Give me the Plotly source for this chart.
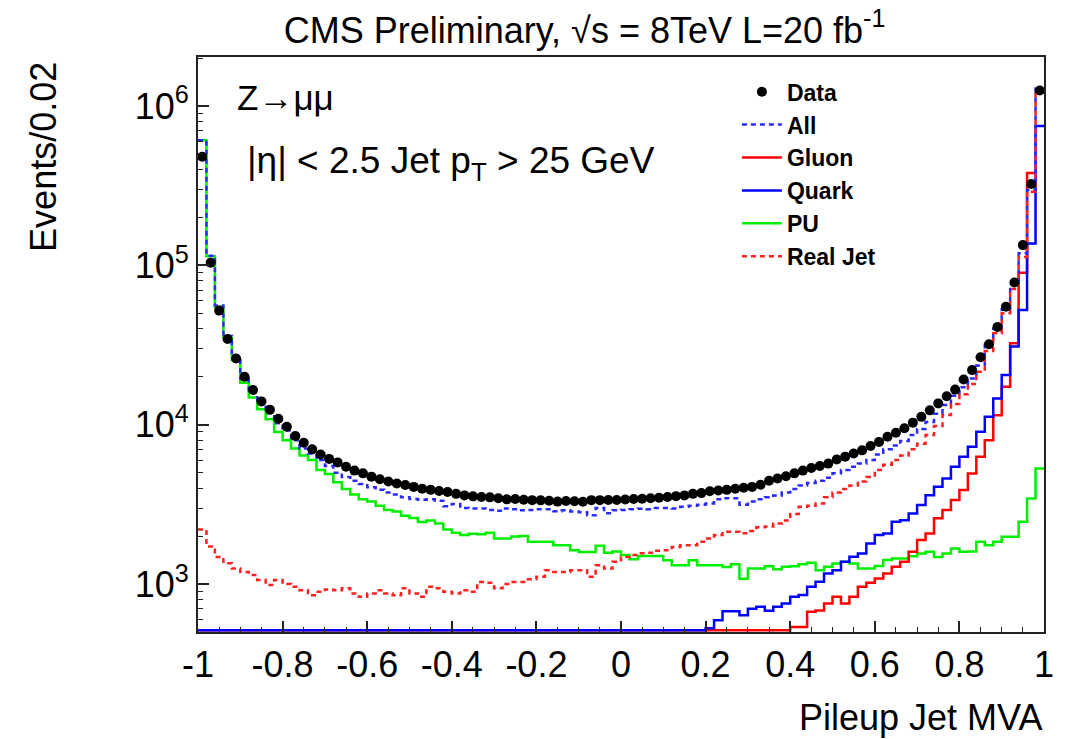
import numpy as np
import plotly.graph_objects as go

# ---------------- data (bin width 0.02, 100 bins from -1 to 1) ----------------
bin_edges = np.round(np.linspace(-1.0, 1.0, 101), 2)

data_counts = [
    4.8e5, 1.04e5, 5.2e4, 3.45e4, 2.6e4, 2.0e4, 1.65e4, 1.40e4, 1.24e4, 1.09e4,
    9.7e3, 8.5e3, 7.7e3, 7.0e3, 6.5e3, 6.1e3, 5.8e3, 5.45e3, 5.15e3, 4.95e3,
    4.72e3, 4.55e3, 4.40e3, 4.28e3, 4.18e3, 4.07e3, 3.96e3, 3.90e3, 3.84e3, 3.78e3,
    3.68e3, 3.60e3, 3.55e3, 3.52e3, 3.50e3, 3.45e3, 3.40e3, 3.42e3, 3.38e3, 3.36e3,
    3.35e3, 3.33e3, 3.29e3, 3.32e3, 3.31e3, 3.28e3, 3.36e3, 3.36e3, 3.37e3, 3.37e3,
    3.39e3, 3.42e3, 3.43e3, 3.45e3, 3.48e3, 3.52e3, 3.56e3, 3.60e3, 3.68e3, 3.72e3,
    3.82e3, 3.86e3, 3.90e3, 3.96e3, 4.02e3, 4.07e3, 4.20e3, 4.45e3, 4.60e3, 4.75e3,
    4.95e3, 5.15e3, 5.35e3, 5.50e3, 5.70e3, 6.05e3, 6.30e3, 6.60e3, 6.90e3, 7.35e3,
    7.80e3, 8.40e3, 8.90e3, 9.50e3, 1.03e4, 1.12e4, 1.23e4, 1.36e4, 1.51e4, 1.66e4,
    1.92e4, 2.20e4, 2.65e4, 3.20e4, 4.10e4, 5.50e4, 7.80e4, 1.34e5, 3.24e5, 1.25e6,
]

all_mc = [
    6.1e5, 1.15e5, 5.6e4, 3.6e4, 2.65e4, 1.95e4, 1.6e4, 1.36e4, 1.18e4, 1.02e4,
    9.2e3, 8.0e3, 7.1e3, 6.6e3, 6.0e3, 5.5e3, 5.0e3, 4.7e3, 4.45e3, 4.25e3,
    4.05e3, 3.9e3, 3.75e3, 3.65e3, 3.5e3, 3.42e3, 3.38e3, 3.4e3, 3.33e3, 3.08e3,
    3.18e3, 3.0e3, 2.98e3, 2.98e3, 2.92e3, 2.88e3, 2.98e3, 2.95e3, 2.9e3, 2.92e3,
    2.95e3, 2.95e3, 2.86e3, 2.9e3, 2.85e3, 2.82e3, 2.7e3, 3.0e3, 2.78e3, 2.9e3,
    2.92e3, 2.95e3, 2.97e3, 2.95e3, 3.0e3, 3.0e3, 2.98e3, 3.05e3, 3.1e3, 3.15e3,
    3.2e3, 3.4e3, 3.45e3, 3.45e3, 3.15e3, 3.3e3, 3.4e3, 3.5e3, 3.6e3, 3.75e3,
    3.95e3, 4.15e3, 4.3e3, 4.45e3, 4.65e3, 4.95e3, 5.2e3, 5.45e3, 5.7e3, 6.0e3,
    6.5e3, 7.0e3, 7.4e3, 7.9e3, 8.6e3, 9.4e3, 1.04e4, 1.17e4, 1.33e4, 1.52e4,
    1.72e4, 1.95e4, 2.35e4, 3.3e4, 4.0e4, 5.3e4, 7.6e4, 1.19e5, 2.97e5, 1.29e6,
]

# 0 = below the visible range (drawn on the lower frame, as ROOT does)
gluon = [
    0, 0, 0, 0, 0, 0, 0, 0, 0, 0,
    0, 0, 0, 0, 0, 0, 0, 0, 0, 0,
    0, 0, 0, 0, 0, 0, 0, 0, 0, 0,
    0, 0, 0, 0, 0, 0, 0, 0, 0, 0,
    0, 0, 0, 0, 0, 0, 0, 0, 0, 0,
    0, 0, 0, 0, 0, 0, 0, 0, 0, 0,
    0, 0, 0, 0, 0, 0, 0, 0, 0, 0,
    538, 538, 670, 683, 755, 832, 755, 832, 960,
    1020, 1083, 1166, 1282, 1378, 1592, 1889, 2076, 2583, 2910,
    3365, 3885, 4940, 6290, 8000, 11480, 17300, 32400, 90000, 380000,
]

quark = [
    0, 0, 0, 0, 0, 0, 0, 0, 0, 0,
    0, 0, 0, 0, 0, 0, 0, 0, 0, 0,
    0, 0, 0, 0, 0, 0, 0, 0, 0, 0,
    0, 0, 0, 0, 0, 0, 0, 0, 0, 0,
    0, 0, 0, 0, 0, 0, 0, 0, 0, 0,
    0, 0, 0, 0, 0, 0, 0, 0, 0, 0,
    527, 593, 676, 676, 638, 700, 720, 680, 720, 755,
    832, 852, 960, 1033, 1166, 1222, 1378, 1482, 1555, 1797,
    2030, 2076, 2458, 2518, 2775, 3128, 3612, 4078, 4603, 5446,
    6290, 7268, 9016, 11215, 14620, 20480, 31000, 52500, 137000, 750000,
]

pileup = [
    6.1e5, 1.14e5, 5.5e4, 3.5e4, 2.55e4, 1.83e4, 1.48e4, 1.25e4, 1.08e4, 9.0e3,
    8.0e3, 7.1e3, 6.4e3, 6.0e3, 5.2e3, 4.9e3, 4.35e3, 3.95e3, 3.65e3, 3.4e3,
    3.3e3, 3.1e3, 2.92e3, 2.85e3, 2.68e3, 2.6e3, 2.45e3, 2.5e3, 2.4e3, 2.2e3,
    2.1e3, 2.03e3, 2.07e3, 2.05e3, 2.1e3, 1.93e3, 1.93e3, 1.99e3, 2.0e3, 1.84e3,
    1.84e3, 1.84e3, 1.75e3, 1.75e3, 1.63e3, 1.59e3, 1.59e3, 1.74e3, 1.57e3, 1.6e3,
    1.52e3, 1.43e3, 1.5e3, 1.5e3, 1.5e3, 1.41e3, 1.31e3, 1.31e3, 1.41e3, 1.31e3,
    1.31e3, 1.31e3, 1.28e3, 1.33e3, 1.08e3, 1.25e3, 1.25e3, 1.295e3, 1.236e3, 1.282e3,
    1.295e3, 1.333e3, 1.358e3, 1.222e3, 1.282e3, 1.346e3, 1.378e3, 1.346e3, 1.252e3, 1.252e3,
    1.3e3, 1.413e3, 1.447e3, 1.447e3, 1.496e3, 1.555e3, 1.592e3, 1.48e3, 1.555e3, 1.671e3,
    1.592e3, 1.6e3, 1.841e3, 1.754e3, 1.841e3, 1.982e3, 1.982e3, 2.46e3, 3.445e3, 5.31e3,
]

real_jet = [
    2.2e3, 1.72e3, 1.48e3, 1.35e3, 1.25e3, 1.19e3, 1.14e3, 1.06e3, 985, 1.06e3,
    1.0e3, 960, 915, 850, 895, 925, 915, 940, 873, 832,
    873, 915, 873, 850, 940, 873, 832, 960, 940, 895,
    873, 915, 895, 1.03e3, 1.02e3, 940, 1.0e3, 1.03e3, 1.03e3, 1.07e3,
    1.11e3, 1.22e3, 1.19e3, 1.19e3, 1.22e3, 1.22e3, 1.11e3, 1.31e3, 1.25e3, 1.38e3,
    1.48e3, 1.52e3, 1.56e3, 1.57e3, 1.62e3, 1.63e3, 1.71e3, 1.75e3, 1.75e3, 1.84e3,
    1.93e3, 2.03e3, 2.13e3, 2.13e3, 2.08e3, 2.15e3, 2.27e3, 2.3e3, 2.4e3, 2.5e3,
    2.75e3, 3.05e3, 3.1e3, 3.2e3, 3.5e3, 3.75e3, 3.95e3, 4.15e3, 4.4e3, 4.7e3,
    5.2e3, 5.6e3, 6.0e3, 6.4e3, 7.0e3, 7.6e3, 8.6e3, 9.8e3, 1.15e4, 1.35e4,
    1.55e4, 1.8e4, 2.15e4, 2.9e4, 3.75e4, 5.0e4, 7.1e4, 1.13e5, 2.9e5, 1.27e6,
]

x_tick_vals = [-1, -0.8, -0.6, -0.4, -0.2, 0, 0.2, 0.4, 0.6, 0.8, 1]
x_tick_text = ["-1", "-0.8", "-0.6", "-0.4", "-0.2", "0", "0.2", "0.4", "0.6", "0.8", "1"]
y_tick_vals = [1e3, 1e4, 1e5, 1e6]
y_tick_text = ["10<sup>3</sup>", "10<sup>4</sup>", "10<sup>5</sup>", "10<sup>6</sup>"]
y_minor_vals = [k * 10 ** n for n in range(2, 7) for k in range(2, 10)]

# ---------------- styling ----------------
YMIN, YMAX = 500.0, 2.03e6
FLOOR = 512.0          # values under the axis minimum sit on the lower frame
FONT = "Liberation Sans, Arial, Helvetica, sans-serif"
LW = 2.5

bin_centers = (bin_edges[:-1] + bin_edges[1:]) / 2.0


def step(vals):
    y = np.maximum(np.asarray(vals, dtype=float), FLOOR)
    return list(bin_edges), list(y) + [y[-1]]


fig = go.Figure()


def add_hist(vals, name, color, dash, rank):
    xs, ys = step(vals)
    fig.add_trace(go.Scatter(
        x=xs, y=ys, mode="lines", name=name, legendrank=rank,
        line=dict(color=color, width=LW, dash=dash, shape="hv"),
        hoverinfo="skip",
    ))


add_hist(pileup, "<b>PU</b>", "#00ee00", "solid", 5)
add_hist(gluon, "<b>Gluon</b>", "#ff0000", "solid", 3)
add_hist(quark, "<b>Quark</b>", "#0000ff", "solid", 4)
add_hist(all_mc, "<b>All</b>", "#2a2aff", "5px,4px", 2)
add_hist(real_jet, "<b>Real Jet</b>", "#ff2020", "5px,4px", 6)

fig.add_trace(go.Scatter(
    x=bin_centers, y=data_counts, mode="markers", name="<b>Data</b>", legendrank=1,
    marker=dict(color="black", size=10, symbol="circle"),
))

fig.update_layout(
    width=1066, height=739,
    margin=dict(l=198, r=14, t=57, b=107),
    paper_bgcolor="white", plot_bgcolor="white",
    font=dict(family=FONT, size=36, color="black"),
    showlegend=True,
    legend=dict(
        x=0.637, y=0.977, xanchor="left", yanchor="top",
        bgcolor="rgba(0,0,0,0)", borderwidth=0,
        font=dict(family=FONT, size=23, color="black"),
        itemwidth=40, tracegroupgap=0,
    ),
    title=dict(
        text="CMS Preliminary, √s = 8TeV L=20 fb<sup>-1</sup>",
        x=0.457, xref="paper", xanchor="center",
        y=1 - 30 / 739, yref="container", yanchor="middle",
        font=dict(family=FONT, size=36, color="black"),
    ),
)

fig.update_xaxes(
    range=[-1, 1], showgrid=False, zeroline=False,
    showline=True, linecolor="#222222", linewidth=2, mirror=True,
    ticks="inside", ticklen=11, tickwidth=1.5, tickcolor="#222222",
    tickvals=x_tick_vals, ticktext=x_tick_text,
    tickfont=dict(family=FONT, size=36),
    minor=dict(ticks="inside", ticklen=5, tickwidth=1.2, tickcolor="#222222",
               dtick=0.05, tick0=0, showgrid=False),
)
fig.update_yaxes(
    type="log", range=[np.log10(YMIN), np.log10(YMAX)],
    showgrid=False, zeroline=False,
    showline=True, linecolor="#222222", linewidth=2, mirror=True,
    ticks="inside", ticklen=11, tickwidth=1.5, tickcolor="#222222",
    tickvals=y_tick_vals, ticktext=y_tick_text,
    tickfont=dict(family=FONT, size=36),
    minor=dict(ticks="inside", ticklen=5, tickwidth=1.2, tickcolor="#222222",
               tickvals=y_minor_vals, showgrid=False),
)

# axis titles and in-plot text
fig.add_annotation(
    text="Events/0.02", textangle=-90, xref="paper", yref="paper",
    x=-0.182, y=0.995, xanchor="center", yanchor="top", showarrow=False,
    font=dict(family=FONT, size=36),
)
fig.add_annotation(
    text="Pileup Jet MVA", xref="paper", yref="paper",
    x=1.0, y=-0.148, xanchor="right", yanchor="middle", showarrow=False,
    font=dict(family=FONT, size=36),
)
fig.add_annotation(
    text="Z→μμ", xref="paper", yref="paper",
    x=(235 - 198) / 854, y=(632 - 97) / 575, xanchor="left", yanchor="middle",
    showarrow=False, font=dict(family=FONT, size=35),
)
fig.add_annotation(
    text="|η| < 2.5 Jet p<sub>T</sub> > 25 GeV", xref="paper", yref="paper",
    x=(245 - 198) / 854, y=(632 - 163) / 575, xanchor="left", yanchor="middle",
    showarrow=False, font=dict(family=FONT, size=37),
)

fig.write_html("out.html")
